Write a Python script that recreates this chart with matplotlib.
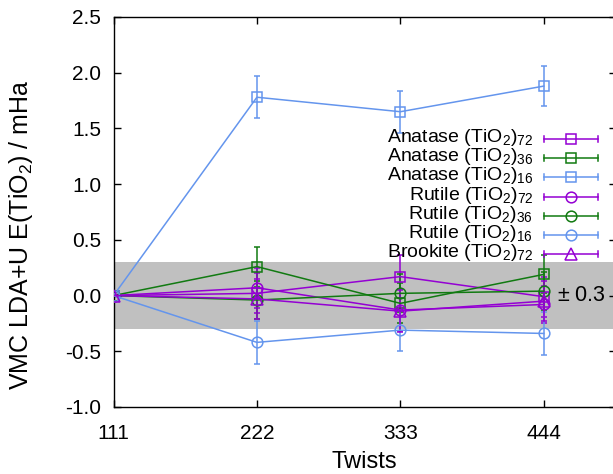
import matplotlib
matplotlib.use("Agg")
import matplotlib.pyplot as plt
from matplotlib.lines import Line2D

plt.rcParams['font.family'] = ['Liberation Sans', 'DejaVu Sans']
plt.rcParams['mathtext.fontset'] = 'custom'
plt.rcParams['mathtext.rm'] = 'Liberation Sans'
plt.rcParams['mathtext.it'] = 'Liberation Sans:italic'
plt.rcParams['mathtext.bf'] = 'Liberation Sans:bold'

twists = ['111', '222', '333', '444']

anatase72 = [0.0, 0.02, 0.17, -0.01]
anatase72_err = [0.0, 0.18, 0.19, 0.18]
anatase36 = [0.0, 0.26, -0.07, 0.19]
anatase36_err = [0.0, 0.18, 0.18, 0.17]
anatase16 = [0.0, 1.78, 1.65, 1.88]
anatase16_err = [0.0, 0.19, 0.19, 0.18]
rutile72 = [0.0, 0.07, -0.13, -0.08]
rutile72_err = [0.0, 0.18, 0.19, 0.17]
rutile36 = [0.0, -0.04, 0.02, 0.04]
rutile36_err = [0.0, 0.17, 0.17, 0.17]
rutile16 = [0.0, -0.42, -0.31, -0.34]
rutile16_err = [0.0, 0.19, 0.19, 0.19]
brookite72 = [0.0, -0.03, -0.14, -0.05]
brookite72_err = [0.0, 0.18, 0.19, 0.18]

band = 0.3

PURPLE = '#9400d3'
GREEN = '#117a11'
BLUE = '#6495ed'

series = [
    ('Anatase (TiO$_2$)$_{72}$', anatase72, anatase72_err, PURPLE, 's'),
    ('Anatase (TiO$_2$)$_{36}$', anatase36, anatase36_err, GREEN, 's'),
    ('Anatase (TiO$_2$)$_{16}$', anatase16, anatase16_err, BLUE, 's'),
    ('Rutile (TiO$_2$)$_{72}$', rutile72, rutile72_err, PURPLE, 'o'),
    ('Rutile (TiO$_2$)$_{36}$', rutile36, rutile36_err, GREEN, 'o'),
    ('Rutile (TiO$_2$)$_{16}$', rutile16, rutile16_err, BLUE, 'o'),
    ('Brookite (TiO$_2$)$_{72}$', brookite72, brookite72_err, PURPLE, '^'),
]

fig = plt.figure(figsize=(6.13, 4.74), dpi=100)
W, H = 613, 474
x0, x1, y0, y1 = 113.5, 615.5, 17, 407
ax = fig.add_axes([x0 / W, 1 - y1 / H, (x1 - x0) / W, (y1 - y0) / H])

xs = list(range(len(twists)))
ax.axhspan(-band, band, color='#c0c0c0', lw=0, zorder=0)

for label, vals, errs, col, mk in series:
    ax.errorbar(xs, vals, yerr=errs, color=col, marker=mk, ms=7.7 if mk != '^' else 8.2,
                mfc='none', mec=col, mew=1.1, lw=1.1, elinewidth=1.1,
                capsize=2.5, capthick=1.1, zorder=3)

ax.text(3.09, 0.0, '$\\pm$ 0.3', fontsize=15.5, va='center', ha='left', zorder=4)

ax.set_xlim(0, 3.5)
ax.set_ylim(-1.0, 2.5)
ax.set_xticks(xs)
ax.set_xticklabels(twists)
ax.set_yticks([-1.0, -0.5, 0.0, 0.5, 1.0, 1.5, 2.0, 2.5])
ax.set_yticklabels(['-1.0', '-0.5', '0.0', '0.5', '1.0', '1.5', '2.0', '2.5'])
ax.tick_params(direction='in', length=5, width=1.0, top=True, right=True,
               labelsize=15)
ax.tick_params(axis='y', pad=9)
ax.tick_params(axis='x', pad=12)
for s in ax.spines.values():
    s.set_linewidth(1.0)

fig.text(364 / W, 1 - 462 / H, 'Twists', fontsize=17, ha='center', va='center')
fig.text(21 / W, 1 - 235 / H, 'VMC LDA+U E(TiO$_2$) / mHa', fontsize=18,
         ha='center', va='center', rotation=90)

# manual gnuplot-style key
tx = (533 - x0) / (x1 - x0)
sx0 = (544 - x0) / (x1 - x0)
sx1 = (598 - x0) / (x1 - x0)
smid = (571 - x0) / (x1 - x0)
cap = 3.0 / (y1 - y0)
for i, (label, vals, errs, col, mk) in enumerate(series):
    py = 139 + i * 19.2
    yy = (y1 - py) / (y1 - y0)
    ax.text(tx, yy + 0.004, label, transform=ax.transAxes, ha='right', va='center',
            fontsize=14, zorder=5)
    ax.add_line(Line2D([sx0, sx1], [yy, yy], transform=ax.transAxes, color=col, lw=1.1, zorder=5))
    for cx in (sx0, sx1):
        ax.add_line(Line2D([cx, cx], [yy - cap, yy + cap], transform=ax.transAxes,
                           color=col, lw=1.1, zorder=5))
    ax.add_line(Line2D([smid], [yy], transform=ax.transAxes, color=col, marker=mk,
                       ms=7.7 if mk != '^' else 8.2, mfc='none', mec=col, mew=1.1, zorder=5))

fig.savefig('out.png', dpi=100)
